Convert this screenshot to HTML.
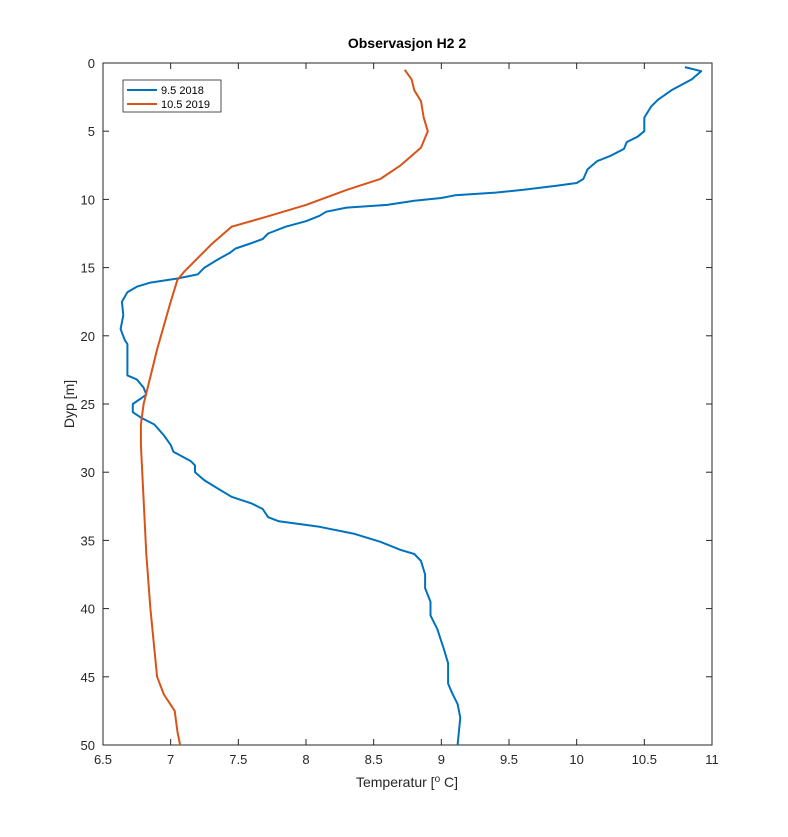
<!DOCTYPE html>
<html><head><meta charset="utf-8"><style>body{margin:0;background:#fff}svg{display:block;font-family:"Liberation Sans",sans-serif}</style></head>
<body>
<svg id="chart" width="788" height="837">
<rect width="788" height="837" fill="#fff"/>
<rect x="103" y="63" width="609" height="682" fill="#fff" stroke="#262626" stroke-width="1"/>
<text x="407" y="48" text-anchor="middle" font-size="14" font-weight="bold" fill="#000">Observasjon H2 2</text>
<g id="xt"></g>
<g id="yt"></g>
<text x="407" y="787" text-anchor="middle" font-size="14" fill="#262626">Temperatur [<tspan baseline-shift="super" font-size="10">o</tspan> C]</text>
<text transform="translate(74,404) rotate(-90)" text-anchor="middle" font-size="14" fill="#262626">Dyp [m]</text>
<g id="series"></g>
<g>
<rect x="123" y="80" width="98" height="32" fill="#fff" stroke="#262626" stroke-width="0.8"/>
<line x1="127" y1="90" x2="157" y2="90" stroke="#0072BD" stroke-width="2"/>
<text x="161" y="94" font-size="11" fill="#000">9.5 2018</text>
<line x1="127" y1="104" x2="157" y2="104" stroke="#D95319" stroke-width="2"/>
<text x="161" y="108" font-size="11" fill="#000">10.5 2019</text>
</g>
</svg>
<script>
const xTicks=[6.5,7,7.5,8,8.5,9,9.5,10,10.5,11];
const yTicks=[0,5,10,15,20,25,30,35,40,45,50];
const blueT=[10.8,10.92,10.85,10.7,10.6,10.55,10.5,10.5,10.45,10.37,10.35,10.25,10.15,10.08,10.05,10.0,9.85,9.6,9.4,9.1,9.0,8.8,8.6,8.3,8.15,8.1,8.0,7.85,7.72,7.68,7.6,7.48,7.44,7.35,7.25,7.2,7.05,6.85,6.75,6.68,6.64,6.65,6.63,6.66,6.68,6.68,6.75,6.8,6.82,6.78,6.72,6.72,6.78,6.88,6.95,7.0,7.02,7.15,7.18,7.18,7.25,7.35,7.45,7.6,7.68,7.72,7.8,8.1,8.35,8.55,8.7,8.8,8.85,8.88,8.88,8.92,8.92,8.97,9.02,9.05,9.05,9.08,9.12,9.14,9.13,9.12];
const blueD=[0.3,0.6,1.2,2,2.7,3.2,4,5,5.4,5.8,6.3,6.8,7.2,7.8,8.5,8.8,9,9.3,9.5,9.7,9.9,10.1,10.4,10.6,10.9,11.2,11.6,12,12.5,12.9,13.2,13.6,13.9,14.4,15.0,15.5,15.8,16.1,16.4,16.8,17.5,18.5,19.5,20.3,20.6,22.9,23.2,23.8,24.3,24.6,25,25.6,26,26.5,27.3,28.0,28.5,29.2,29.5,30,30.6,31.2,31.8,32.3,32.7,33.3,33.6,34.0,34.5,35.1,35.7,36.0,36.5,37.5,38.5,39.5,40.5,41.5,43,44,45.5,46.2,47,48,49,50];
const redT=[8.73,8.78,8.8,8.85,8.87,8.9,8.85,8.7,8.55,8.3,8.0,7.7,7.45,7.3,7.18,7.1,7.05,7.0,6.9,6.85,6.8,6.78,6.78,6.8,6.82,6.85,6.88,6.9,6.95,7.03,7.05,7.07];
const redD=[0.5,1.2,2.0,2.8,4,5,6.2,7.5,8.5,9.3,10.4,11.3,12,13.3,14.5,15.3,15.9,17.5,21,23,25,26.5,28,32,36,40,43,45,46.3,47.5,49,50];
const X0=103,X1=712,Y0=63,Y1=745;
const sx=v=>X0+(v-6.5)/(11-6.5)*(X1-X0);
const sy=v=>Y0+v/50*(Y1-Y0);
const NS="http://www.w3.org/2000/svg";
function mk(t,a,p){const e=document.createElementNS(NS,t);for(const k in a)e.setAttribute(k,a[k]);p.appendChild(e);return e;}
const xt=document.getElementById('xt'),yt=document.getElementById('yt'),sg=document.getElementById('series');
xTicks.forEach(v=>{const x=sx(v);
mk('line',{x1:x,x2:x,y1:Y1,y2:Y1-6,stroke:'#262626'},xt);mk('line',{x1:x,x2:x,y1:Y0,y2:Y0+6,stroke:'#262626'},xt);
const t=mk('text',{x:x,y:Y1+19,'text-anchor':'middle','font-size':13,fill:'#262626'},xt);t.textContent=v;

});
yTicks.forEach(v=>{const y=sy(v);
mk('line',{x1:X0,x2:X0+6,y1:y,y2:y,stroke:'#262626'},yt);mk('line',{x1:X1,x2:X1-6,y1:y,y2:y,stroke:'#262626'},yt);
const t=mk('text',{x:X0-8,y:y+5,'text-anchor':'end','font-size':13,fill:'#262626'},yt);t.textContent=v;

});
function line(T,D,c,n){const p=mk('polyline',{points:T.map((t,i)=>sx(t).toFixed(1)+','+sy(D[i]).toFixed(1)).join(' '),fill:'none',stroke:c,'stroke-width':2,'stroke-linejoin':'round'},sg);

}
line(blueT,blueD,'#0072BD','series-2018');
line(redT,redD,'#D95319','series-2019');
</script>
</body></html>
